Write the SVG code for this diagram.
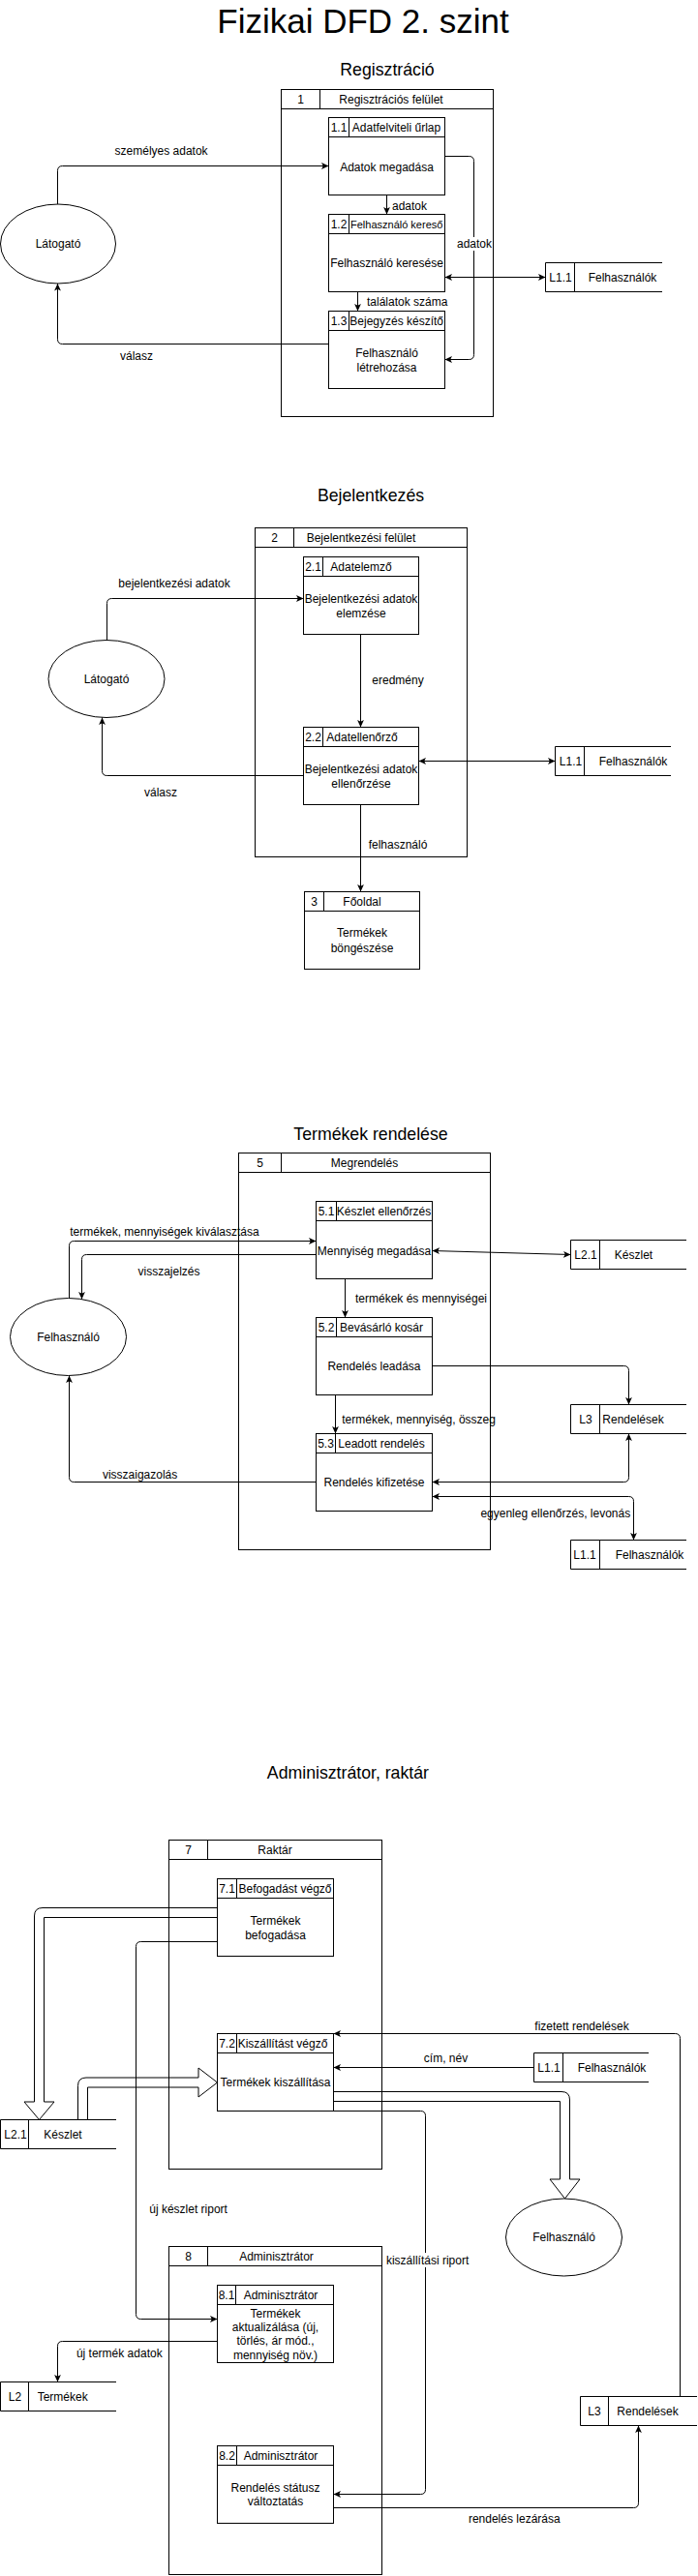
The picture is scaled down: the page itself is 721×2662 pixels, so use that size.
<svg xmlns="http://www.w3.org/2000/svg" width="721" height="2662" viewBox="0 0 721 2662">
<defs>
<style>
.t{font-family:"Liberation Sans",Arial,Helvetica,sans-serif;font-size:12px;fill:#000;text-anchor:middle}
.st{text-anchor:start}
.s11{font-size:11px}
.h{font-size:17.7px}
.ti{font-size:35px}
.box{fill:none;stroke:#000;stroke-width:1}
.p{fill:#fff;stroke:#000;stroke-width:1}
.ln{fill:none;stroke:#000;stroke-width:1}
.e{fill:none;stroke:#000;stroke-width:1;marker-end:url(#a)}
.b{fill:none;stroke:#000;stroke-width:1;marker-start:url(#a);marker-end:url(#a)}
.fx{fill:#fff;fill-opacity:0;stroke:#000;stroke-width:1;stroke-linejoin:miter}
.bg{fill:#fff}
</style>
<marker id="a" viewBox="0 0 8 8" refX="7.5" refY="4" markerWidth="8" markerHeight="8" markerUnits="userSpaceOnUse" orient="auto-start-reverse">
<path d="M0,0.6 L7.5,4 L0,7.4 L1.8,4 Z" fill="#000"/>
</marker>
</defs>
<rect x="0" y="0" width="721" height="2662" fill="#fff"/>

<text class="t ti" x="375" y="34">Fizikai DFD 2. szint</text>
<text class="t h" x="400" y="78">Regisztráció</text>
<text class="t h" x="383" y="518">Bejelentkezés</text>
<text class="t h" x="383" y="1178">Termékek rendelése</text>
<text class="t h" x="359.4" y="1838">Adminisztrátor, raktár</text>

<!-- Frames -->
<g id="box-1">
<rect class="box" x="290.5" y="92.5" width="219" height="338"/>
<path class="ln" d="M290.5,112.5 H509.5 M330.5,92.5 V112.5"/>
<text class="t" x="310.5" y="106.5">1</text>
<text class="t" x="404" y="106.5">Regisztrációs felület</text>
</g>
<g id="box-2">
<rect class="box" x="263.5" y="545.5" width="219" height="340"/>
<path class="ln" d="M263.5,565.5 H482.5 M303.5,545.5 V565.5"/>
<text class="t" x="283.5" y="560">2</text>
<text class="t" x="373" y="560">Bejelentkezési felület</text>
</g>
<g id="box-5">
<rect class="box" x="246.5" y="1191.5" width="260" height="410"/>
<path class="ln" d="M246.5,1211.5 H506.5 M290.5,1191.5 V1211.5"/>
<text class="t" x="268.5" y="1205.5">5</text>
<text class="t" x="376.5" y="1205.5">Megrendelés</text>
</g>
<g id="box-7">
<rect class="box" x="174.5" y="1901.5" width="220" height="340"/>
<path class="ln" d="M174.5,1921.5 H394.5 M214.5,1901.5 V1921.5"/>
<text class="t" x="194.5" y="1915.5">7</text>
<text class="t" x="284" y="1915.5">Raktár</text>
</g>
<g id="box-8">
<rect class="box" x="174.5" y="2321.5" width="220" height="339"/>
<path class="ln" d="M174.5,2341.5 H394.5 M214.5,2321.5 V2341.5"/>
<text class="t" x="194.5" y="2335.5">8</text>
<text class="t" x="285.5" y="2335.5">Adminisztrátor</text>
</g>

<!-- Processes -->
<g id="p-1-1">
<rect class="p" x="339.5" y="121.5" width="120" height="80"/>
<path class="ln" d="M339.5,141.5 H459.5 M360.5,121.5 V141.5"/>
<text class="t" x="350" y="136">1.1</text>
<text class="t" x="409.5" y="136">Adatfelviteli űrlap</text>
<text class="t" x="399.5" y="176.5">Adatok megadása</text>
</g>
<g id="p-1-2">
<rect class="p" x="339.5" y="221.5" width="120" height="80"/>
<path class="ln" d="M339.5,241.5 H459.5 M360.5,221.5 V241.5"/>
<text class="t" x="350" y="236">1.2</text>
<text class="t s11" x="409.7" y="235.5">Felhasználó kereső</text>
<text class="t" x="399.5" y="276">Felhasználó keresése</text>
</g>
<g id="p-1-3">
<rect class="p" x="339.5" y="321.5" width="120" height="80"/>
<path class="ln" d="M339.5,341.5 H459.5 M360.5,321.5 V341.5"/>
<text class="t" x="350" y="336">1.3</text>
<text class="t" x="409.7" y="336">Bejegyzés készítő</text>
<text class="t" x="399.5" y="369">Felhasználó</text>
<text class="t" x="399.5" y="383.5">létrehozása</text>
</g>
<g id="p-2-1">
<rect class="p" x="313.5" y="575.5" width="119" height="80"/>
<path class="ln" d="M313.5,595.5 H432.5 M333.5,575.5 V595.5"/>
<text class="t" x="323.5" y="590">2.1</text>
<text class="t" x="373" y="590">Adatelemző</text>
<text class="t" x="373" y="622.5">Bejelentkezési adatok</text>
<text class="t" x="373" y="637.5">elemzése</text>
</g>
<g id="p-2-2">
<rect class="p" x="313.5" y="751.5" width="119" height="80"/>
<path class="ln" d="M313.5,771.5 H432.5 M333.5,751.5 V771.5"/>
<text class="t" x="323.5" y="766">2.2</text>
<text class="t" x="374" y="766">Adatellenőrző</text>
<text class="t" x="373" y="798.5">Bejelentkezési adatok</text>
<text class="t" x="373" y="813.5">ellenőrzése</text>
</g>
<g id="p-3">
<rect class="p" x="314.5" y="921.5" width="119" height="80"/>
<path class="ln" d="M314.5,941.5 H433.5 M334.5,921.5 V941.5"/>
<text class="t" x="324.5" y="936">3</text>
<text class="t" x="374" y="936">Főoldal</text>
<text class="t" x="374" y="968">Termékek</text>
<text class="t" x="374" y="983.5">böngészése</text>
</g>
<g id="p-5-1">
<rect class="p" x="326.5" y="1241.5" width="120" height="80"/>
<path class="ln" d="M326.5,1261.5 H446.5 M347.5,1241.5 V1261.5"/>
<text class="t" x="337" y="1256">5.1</text>
<text class="t" x="396.5" y="1256">Készlet ellenőrzés</text>
<text class="t" x="386.5" y="1297">Mennyiség megadása</text>
</g>
<g id="p-5-2">
<rect class="p" x="326.5" y="1361.5" width="120" height="80"/>
<path class="ln" d="M326.5,1381.5 H446.5 M347.5,1361.5 V1381.5"/>
<text class="t" x="337" y="1376">5.2</text>
<text class="t" x="394" y="1376">Bevásárló kosár</text>
<text class="t" x="386.5" y="1416">Rendelés leadása</text>
</g>
<g id="p-5-3">
<rect class="p" x="326.5" y="1481.5" width="120" height="80"/>
<path class="ln" d="M326.5,1501.5 H446.5 M346.5,1481.5 V1501.5"/>
<text class="t" x="336.5" y="1496">5.3</text>
<text class="t" x="394" y="1496">Leadott rendelés</text>
<text class="t" x="386.5" y="1536">Rendelés kifizetése</text>
</g>
<g id="p-7-1">
<rect class="p" x="224.5" y="1941.5" width="120" height="80"/>
<path class="ln" d="M224.5,1961.5 H344.5 M244.5,1941.5 V1961.5"/>
<text class="t" x="234.5" y="1956">7.1</text>
<text class="t" x="294.5" y="1956">Befogadást végző</text>
<text class="t" x="284.5" y="1989">Termékek</text>
<text class="t" x="284.5" y="2003.5">befogadása</text>
</g>
<g id="p-7-2">
<rect class="p" x="224.5" y="2101.5" width="120" height="80"/>
<path class="ln" d="M224.5,2121.5 H344.5 M244.5,2101.5 V2121.5"/>
<text class="t" x="234.5" y="2116">7.2</text>
<text class="t" x="292" y="2116">Kiszállítást végző</text>
<text class="t" x="284.5" y="2156">Termékek kiszállítása</text>
</g>
<g id="p-8-1">
<rect class="p" x="224.5" y="2361.5" width="120" height="80"/>
<path class="ln" d="M224.5,2381.5 H344.5 M243.5,2361.5 V2381.5"/>
<text class="t" x="234" y="2376">8.1</text>
<text class="t" x="290" y="2376">Adminisztrátor</text>
<text class="t" x="284.5" y="2395">Termékek</text>
<text class="t" x="284.5" y="2409">aktualizálása (új,</text>
<text class="t" x="284.5" y="2423">törlés, ár mód.,</text>
<text class="t" x="284.5" y="2437.5">mennyiség növ.)</text>
</g>
<g id="p-8-2">
<rect class="p" x="224.5" y="2527.5" width="120" height="80"/>
<path class="ln" d="M224.5,2547.5 H344.5 M244.5,2527.5 V2547.5"/>
<text class="t" x="234.5" y="2542">8.2</text>
<text class="t" x="290" y="2542">Adminisztrátor</text>
<text class="t" x="284.5" y="2575">Rendelés státusz</text>
<text class="t" x="284.5" y="2588.5">változtatás</text>
</g>

<!-- Data stores -->
<g id="s-1-l11">
<path class="ln" d="M684,271.5 H563.5 V301.5 H684 M593.5,271.5 V301.5"/>
<text class="t" x="579" y="290.5">L1.1</text>
<text class="t" x="643" y="290.5">Felhasználók</text>
</g>
<g id="s-2-l11">
<path class="ln" d="M693,771.5 H573.5 V801.5 H693 M603.5,771.5 V801.5"/>
<text class="t" x="589.5" y="790.5">L1.1</text>
<text class="t" x="654" y="790.5">Felhasználók</text>
</g>
<g id="s-3-l21">
<path class="ln" d="M709,1281.5 H589.5 V1311.5 H709 M619.5,1281.5 V1311.5"/>
<text class="t" x="605" y="1300.5">L2.1</text>
<text class="t" x="654.5" y="1300.5">Készlet</text>
</g>
<g id="s-3-l3">
<path class="ln" d="M709,1451.5 H589.5 V1481.5 H709 M619.5,1451.5 V1481.5"/>
<text class="t" x="605" y="1470.5">L3</text>
<text class="t" x="654" y="1470.5">Rendelések</text>
</g>
<g id="s-3-l11">
<path class="ln" d="M709,1591.5 H589.5 V1621.5 H709 M619.5,1591.5 V1621.5"/>
<text class="t" x="604" y="1610.5">L1.1</text>
<text class="t" x="671" y="1610.5">Felhasználók</text>
</g>
<g id="s-4-l11">
<path class="ln" d="M670,2121.5 H551.5 V2151.5 H670 M581.5,2121.5 V2151.5"/>
<text class="t" x="567" y="2140.5">L1.1</text>
<text class="t" x="632" y="2140.5">Felhasználók</text>
</g>
<g id="s-4-l21">
<path class="ln" d="M120,2190.5 H0.5 V2220.5 H120 M29.5,2190.5 V2220.5"/>
<text class="t" x="16" y="2209.5">L2.1</text>
<text class="t" x="65" y="2209.5">Készlet</text>
</g>
<g id="s-4-l2">
<path class="ln" d="M120,2461.5 H0.5 V2491.5 H120 M29.5,2461.5 V2491.5"/>
<text class="t" x="15.5" y="2480.5">L2</text>
<text class="t" x="64.7" y="2480.5">Termékek</text>
</g>
<g id="s-4-l3">
<path class="ln" d="M720,2476.5 H599.5 V2506.5 H720 M628.5,2476.5 V2506.5"/>
<text class="t" x="614" y="2495.5">L3</text>
<text class="t" x="669" y="2495.5">Rendelések</text>
</g>

<!-- External entities -->
<g id="e-1-latogato">
<ellipse class="p" cx="60" cy="252" rx="59.5" ry="41"/>
<text class="t" x="60" y="256">Látogató</text>
</g>
<g id="e-2-latogato">
<ellipse class="p" cx="110" cy="701.5" rx="60" ry="40"/>
<text class="t" x="110" y="705.5">Látogató</text>
</g>
<g id="e-3-felhasznalo">
<ellipse class="p" cx="70.5" cy="1381.5" rx="60" ry="40"/>
<text class="t" x="70.5" y="1385.5">Felhasználó</text>
</g>
<g id="e-4-felhasznalo">
<ellipse class="p" cx="582.5" cy="2312" rx="60" ry="40"/>
<text class="t" x="582.5" y="2316">Felhasználó</text>
</g>

<!-- Connectors -->
<g id="connectors">
<path class="e" d="M59.5,211 V176.5 Q59.5,171.5 64.5,171.5 H339.5"/>
<path class="e" d="M399.5,201.5 V221.5"/>
<path class="e" d="M459.5,161.5 H484.5 Q489.5,161.5 489.5,166.5 V366.5 Q489.5,371.5 484.5,371.5 H459.5"/>
<path class="b" d="M459.5,286.5 H563.5"/>
<path class="e" d="M369.5,301.5 V321.5"/>
<path class="e" d="M339.5,355.5 H64.5 Q59.5,355.5 59.5,350.5 V293"/>

<path class="e" d="M110.5,662 V623.5 Q110.5,618.5 115.5,618.5 H313.5"/>
<path class="e" d="M372.5,655.5 V751.5"/>
<path class="b" d="M432.5,786.5 H573.5"/>
<path class="e" d="M313.5,801.5 H110.5 Q105.5,801.5 105.5,796.5 V741.5"/>
<path class="e" d="M372.5,831.5 V921.5"/>

<path class="e" d="M71.5,1341.5 V1287.5 Q71.5,1282.5 76.5,1282.5 H326.5"/>
<path class="e" d="M326.5,1296.5 H89.5 Q84.5,1296.5 84.5,1301.5 V1342.5"/>
<path class="b" d="M446.5,1292.5 L589.5,1296.5"/>
<path class="e" d="M356.5,1321.5 V1361.5"/>
<path class="e" d="M446.5,1411.5 H644.5 Q649.5,1411.5 649.5,1416.5 V1451.5"/>
<path class="e" d="M346.5,1441.5 V1481.5"/>
<path class="e" d="M326.5,1531.5 H76.5 Q71.5,1531.5 71.5,1526.5 V1421.5"/>
<path class="b" d="M446.5,1531.5 H644.5 Q649.5,1531.5 649.5,1526.5 V1481.5"/>
<path class="b" d="M446.5,1546.5 H649.5 Q654.5,1546.5 654.5,1551.5 V1591.5"/>

<path class="e" d="M224.5,2006.5 H145.5 Q140.5,2006.5 140.5,2011.5 V2391.5 Q140.5,2396.5 145.5,2396.5 H224.5"/>
<path class="e" d="M702.5,2476.5 V2106.5 Q702.5,2101.5 697.5,2101.5 H344.5"/>
<path class="e" d="M551.5,2136.5 H344.5"/>
<path class="e" d="M344.5,2181.5 H434.5 Q439.5,2181.5 439.5,2186.5 V2572.5 Q439.5,2577.5 434.5,2577.5 H344.5"/>
<path class="e" d="M224.5,2419.5 H64.5 Q59.5,2419.5 59.5,2424.5 V2461.5"/>
<path class="e" d="M344.5,2591.5 H654.5 Q659.5,2591.5 659.5,2586.5 V2506.5"/>

<path class="fx" d="M224.5,1971.5 H44 Q35.5,1971.5 35.5,1980 V2172 H25 L40.5,2190.5 L56,2172 H45.5 V1981.5 H224.5"/>
<path class="fx" d="M80.5,2190.5 V2155.5 Q80.5,2147 89,2147 H205 V2137 L224.5,2152 L205,2167 V2157 H90.5 V2190.5"/>
<path class="fx" d="M344.5,2161.5 H580 Q588.5,2161.5 588.5,2170 V2252 H599 L583.5,2272 L568,2252 H578.5 V2171.5 H344.5"/>
</g>

<!-- Connector labels -->
<g id="labels">
<text class="t" x="166.6" y="160">személyes adatok</text>
<text class="t st" x="405" y="217">adatok</text>
<rect class="bg" x="472" y="245" width="36" height="14"/>
<text class="t" x="490" y="256">adatok</text>
<text class="t st" x="379" y="316">találatok száma</text>
<text class="t" x="141" y="372">válasz</text>
<text class="t" x="180" y="606.5">bejelentkezési adatok</text>
<text class="t" x="411" y="707">eredmény</text>
<text class="t" x="166" y="822.5">válasz</text>
<text class="t" x="411" y="877">felhasználó</text>
<text class="t" x="170" y="1277">termékek, mennyiségek kiválasztása</text>
<text class="t" x="174.5" y="1317.5">visszajelzés</text>
<text class="t" x="435" y="1346">termékek és mennyiségei</text>
<text class="t" x="432.6" y="1471">termékek, mennyiség, összeg</text>
<text class="t" x="144.6" y="1527.5">visszaigazolás</text>
<text class="t" x="573.8" y="1567.5">egyenleg ellenőrzés, levonás</text>
<text class="t" x="601" y="2097.5">fizetett rendelések</text>
<text class="t" x="460.5" y="2130.5">cím, név</text>
<text class="t" x="194.6" y="2287">új készlet riport</text>
<rect class="bg" x="398" y="2328" width="88" height="15"/>
<text class="t" x="441.6" y="2340">kiszállítási riport</text>
<text class="t" x="123.3" y="2436">új termék adatok</text>
<text class="t" x="531.3" y="2607">rendelés lezárása</text>
</g>
</svg>
